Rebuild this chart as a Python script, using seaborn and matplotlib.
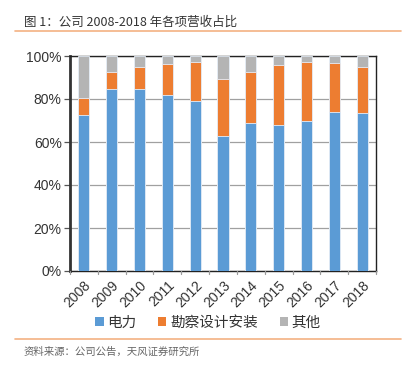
import matplotlib
matplotlib.use("Agg")
import matplotlib.pyplot as plt
import seaborn as sns
import pandas as pd
import numpy as np
from matplotlib.lines import Line2D
from matplotlib.patches import Patch

years = ["2008", "2009", "2010", "2011", "2012", "2013", "2014", "2015", "2016", "2017", "2018"]
power = [72.4, 84.8, 84.5, 81.7, 79.2, 62.7, 68.7, 67.7, 69.6, 73.9, 73.6]
survey = [8.2, 7.9, 10.2, 14.7, 18.0, 26.4, 24.0, 28.3, 27.7, 22.8, 21.4]
other = [round(100 - p - s, 1) for p, s in zip(power, survey)]
series_names = ["电力", "勘察设计安装", "其他"]
colors = ["#5B9BD5", "#ED7D31", "#B4B4B4"]
yticks = [0, 20, 40, 60, 80, 100]

sns.set_theme(style="white")
plt.rcParams['font.family'] = ['Noto Sans CJK SC', 'DejaVu Sans']
num_font = ['Liberation Sans', 'DejaVu Sans']

fig = plt.figure(figsize=(4.16, 3.73), dpi=100)
ax = fig.add_axes([70/416, 1 - 271/373, 306/416, 215/373])

df = pd.DataFrame({"year": years, "电力": power, "勘察设计安装": survey, "其他": other})
cum1 = df["电力"]
cum2 = df["电力"] + df["勘察设计安装"]
cum3 = cum2 + df["其他"]

# draw stacked bars, top layer first
for vals, col in [(cum3, colors[2]), (cum2, colors[1]), (cum1, colors[0])]:
    sns.barplot(x=df["year"], y=vals, color=col, width=0.4, ax=ax,
                saturation=1, edgecolor="#E6EEF8", linewidth=0.6, zorder=3)

ax.set_ylim(0, 100)
ax.set_xlim(-0.5, len(years) - 0.5)
ax.set_yticks(yticks)
ax.set_yticklabels([f"{v}%" for v in yticks], fontsize=10, color="#333333", family=num_font)
ax.set_xlabel("")
ax.set_ylabel("")
ax.set_xticks(range(len(years)))
ax.set_xticklabels(years, rotation=45, ha="right", rotation_mode="anchor", fontsize=10,
                   color="#333333", family=num_font)
ax.tick_params(axis="x", length=0, pad=5)
ax.tick_params(axis="y", length=4, width=0.9, color="#555555", pad=2, left=True)
# boundary tick marks
for b in np.arange(-0.5, len(years), 1.0):
    ax.plot([b, b], [0, -1.6], color="#999999", lw=0.9, clip_on=False, zorder=4)
ax.yaxis.grid(True, color="#A0A0A0", linewidth=0.9, zorder=0)
ax.set_axisbelow(True)
for side in ["top", "right", "bottom"]:
    ax.spines[side].set_visible(True)
    ax.spines[side].set_color("#222222")
    ax.spines[side].set_linewidth(1.0)
ax.spines["left"].set_color("#333333")
ax.spines["left"].set_linewidth(2.0)

handles = [Patch(facecolor=c, edgecolor="none") for c in colors]
fig.legend(handles, series_names, loc="center", bbox_to_anchor=(0.5, 1 - 323/373),
           ncol=3, frameon=False, fontsize=10.5, handlelength=0.55, handleheight=0.55,
           handletextpad=0.25, columnspacing=1.5, labelcolor="#333333")

fig.text(24/416, 1 - 22/373, "图 1：公司 2008-2018 年各项营收占比", fontsize=9,
         color="#333333", va="center", ha="left", fontweight="medium")
fig.add_artist(Line2D([15/416, 401/416], [1 - 31/373, 1 - 31/373], color="#F4B183", lw=1.2))
fig.add_artist(Line2D([15/416, 401/416], [1 - 339/373, 1 - 339/373], color="#F4B183", lw=1.2))
fig.text(24/416, 1 - 352/373, "资料来源：公司公告，天风证券研究所", fontsize=7.5,
         color="#666666", va="center", ha="left")

fig.savefig("out.png", dpi=100)
